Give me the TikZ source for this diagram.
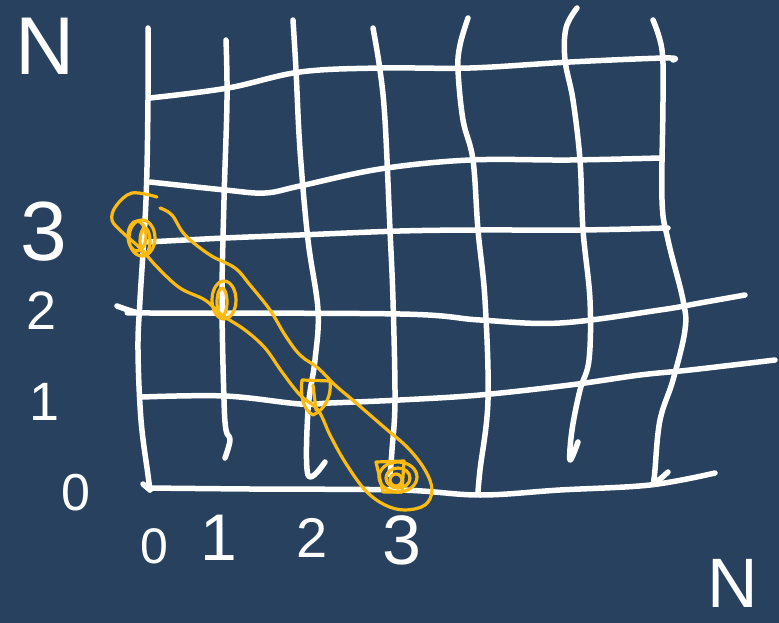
\documentclass[tikz,border=0pt]{standalone}
\usepackage{fontspec}
\setmainfont{Liberation Sans}
\definecolor{bgblue}{RGB}{39,65,94}
\definecolor{hlorange}{RGB}{253,187,18}
\tikzset{
  gridline/.style={draw=white,line width=5.5pt,line cap=round,line join=round},
  hl/.style={draw=hlorange,line width=3.2pt,line cap=round,line join=round},
  lab/.style={text=white,inner sep=0pt,anchor=center}
}
\begin{document}
\begin{tikzpicture}[x=1pt,y=-1pt]
\fill[bgblue] (0,0) rectangle (779,623);
\useasboundingbox (0,0) rectangle (779,623);
% vertical lines
\draw[gridline] plot[smooth,tension=0.6] coordinates {(148,28) (148,100) (146,200) (140,300) (138,350) (141,420) (148,475) (150,490)};
\draw[gridline] plot[smooth,tension=0.6] coordinates {(226,40) (227,100) (224,200) (222,300) (224,400) (226,430) (230,440) (225,458)};
\draw[gridline] plot[smooth,tension=0.6] coordinates {(293,20) (296,70) (300,150) (308,240) (318,310) (315,360) (308,410) (308,475) (325,462)};
\draw[gridline] plot[smooth,tension=0.6] coordinates {(373,28) (380,70) (385,120) (390,230) (393,300) (395,400) (392,450) (390,475)};
\draw[gridline] plot[smooth,tension=0.6] coordinates {(468,18) (460,45) (458,70) (463,120) (473,160) (478,230) (485,300) (488,400) (480,470) (478,492)};
\draw[gridline] plot[smooth,tension=0.6] coordinates {(577,8) (566,28) (565,60) (573,100) (580,160) (583,230) (590,300) (589,360) (580,390) (572,430) (570,460) (578,442)};
\draw[gridline] plot[smooth,tension=0.6] coordinates {(653,20) (662,50) (663,100) (662,200) (668,240) (683,300) (685,330) (673,380) (660,420) (655,470) (655,482) (668,472)};
% horizontal lines
\draw[gridline] plot[smooth,tension=0.6] coordinates {(150,98) (228,88) (300,72) (380,68) (470,68) (570,62) (665,58) (673,60)};
\draw[gridline] plot[smooth,tension=0.6] coordinates {(150,182) (225,190) (265,193) (300,186) (380,169) (470,160) (570,160) (660,158)};
\draw[gridline] plot[smooth,tension=0.6] coordinates {(148,242) (225,238) (300,235) (400,231) (480,230) (580,230) (668,228)};
\draw[gridline] plot[smooth,tension=0.6] coordinates {(117,306) (135,312) (150,313) (400,314) (480,320) (560,323) (660,310) (700,303) (745,295)};
\draw[gridline] plot[smooth,tension=0.6] coordinates {(142,397) (225,396) (300,404) (330,403) (400,400) (480,395) (570,385) (640,375) (690,370) (775,360)};
\draw[gridline] plot[smooth,tension=0.6] coordinates {(148,488) (250,489) (400,490) (480,495) (560,490) (650,485) (715,473)};
\draw[gridline] (143,484) -- (150,490);
% orange highlight
\draw[hl] plot[smooth,tension=0.6] coordinates {(157,197) (132,193) (116,206) (112,220) (122,232) (140,248) (158,268) (180,288) (205,300) (222,315) (245,330) (265,348) (282,372) (300,395) (318,410) (330,435) (345,462) (365,490) (385,505) (405,510) (425,505) (432,490) (425,470) (408,448) (385,428) (355,402) (335,385) (318,368) (300,355) (285,335) (270,310) (250,285) (235,268) (210,255) (185,235) (172,215) (160,208)};
\draw[hl] (142,238) ellipse[x radius=13,y radius=18];
\draw[hl] (137,236) ellipse[x radius=9,y radius=15];
\draw[hl] (145,241) ellipse[x radius=5,y radius=13];
\draw[hl] (224,300) ellipse[x radius=12,y radius=19];
\draw[hl] (222,302) ellipse[x radius=5,y radius=14];
\draw[hl] (302,380) -- (330,381) .. controls (332,395) and (325,410) .. (313,415) .. controls (303,410) and (300,395) .. (302,380);
\draw[hl] (313,385) -- (316,410);
\draw[hl] (398,477) ellipse[x radius=19,y radius=15];
\draw[hl] (398,478) ellipse[x radius=12,y radius=10];
\draw[hl] (396,480) ellipse[x radius=6,y radius=6];
\draw[hl] (376,462) -- (404,461) -- (402,492) -- (383,492) -- cycle;
% labels
\node[lab,font=\fontsize{82}{82}\selectfont] (ntop) at (45,46) {N};
\node[lab,font=\fontsize{84}{84}\selectfont] (l3) at (44,232) {3};
\node[lab,font=\fontsize{54}{54}\selectfont] (l2) at (42,311) {2};
\node[lab,font=\fontsize{54}{54}\selectfont] (l1) at (45,402) {1};
\node[lab,font=\fontsize{52}{52}\selectfont] (l0) at (76,493) {0};
\node[lab,font=\fontsize{50}{50}\selectfont] (b0) at (154,546) {0};
\node[lab,font=\fontsize{66}{66}\selectfont] (b1) at (219,538) {1};
\node[lab,font=\fontsize{56}{56}\selectfont] (b2) at (312,538) {2};
\node[lab,font=\fontsize{70}{70}\selectfont] (b3) at (402,540) {3};
\node[lab,font=\fontsize{70}{70}\selectfont] (nbot) at (733,583) {N};
\end{tikzpicture}
\end{document}
